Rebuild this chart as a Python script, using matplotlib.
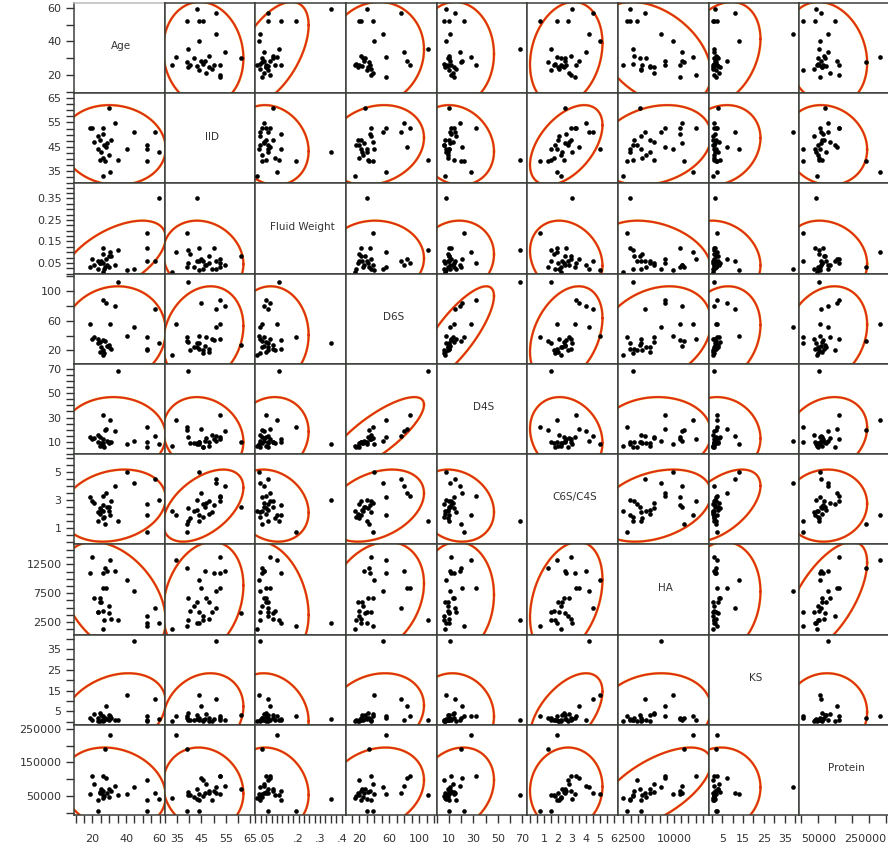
import matplotlib
matplotlib.use('Agg')
import matplotlib.pyplot as plt
import numpy as np
from matplotlib.ticker import MultipleLocator

plt.rcParams['font.family'] = ['DejaVu Sans']

names = ['Age', 'IID', 'Fluid Weight', 'D6S', 'D4S', 'C6S/C4S', 'HA', 'KS', 'Protein']

# one entry per subject
age = [18.8, 19.9, 26, 33.4, 29.8, 44.7, 57.2, 26, 24.6, 21, 26.6, 28, 23, 30, 40.4,
       52.5, 52.5, 59.6, 24.6, 26, 27.6, 35.5, 52.5, 26, 30.5, 28.5, 25, 23.5, 31]
iid = [52.7, 52.7, 52.7, 54.8, 61, 51, 51, 50.3, 48, 46.8, 45.6, 45, 44, 41.8, 44,
       45.6, 44, 43, 39.7, 40.4, 39, 39.7, 39, 33, 34.6, 46.5, 43, 49.5, 48]
fluid = [0.03, 0.07, 0.05, 0.04, 0.08, 0.02, 0.06, 0.12, 0.05, 0.04, 0.02, 0.07, 0.06, 0.03, 0.015,
         0.06, 0.12, 0.35, 0.05, 0.09, 0.03, 0.11, 0.19, 0.01, 0.10, 0.04, 0.06, 0.02, 0.08]
d6s = [56, 36, 88, 79, 28, 52, 76, 34, 18, 38, 16, 83, 30, 25, 40,
       20, 22, 30, 32, 20, 33, 112, 38, 14, 55, 26, 24, 36, 22]
d4s = [14, 12, 32, 19, 10, 11, 15, 12, 7, 13, 6, 21, 10, 9, 8,
       6, 10, 8, 14, 9, 20, 68, 22, 7, 28, 11, 9, 16, 10]
c6s = [3.2, 2.9, 3.3, 4.0, 2.5, 4.2, 4.5, 2.6, 2.0, 2.8, 1.8, 3.5, 1.5, 2.2, 5.0,
       2.7, 1.9, 3.0, 2.4, 1.7, 1.3, 1.5, 0.7, 2.2, 1.9, 2.5, 2.3, 2.1, 2.9]
ha = [11000, 13750, 8400, 11400, 4100, 7800, 5000, 11000, 5900, 6600, 2900, 8400, 4200, 5200, 9800,
      3600, 2300, 2300, 6600, 4400, 11800, 2900, 1800, 1200, 13300, 11400, 5900, 4200, 3000]
ks = [2.0, 1.0, 2.5, 1.0, 3.0, 39, 11, 1.5, 0.5, 3.5, 1.0, 7.5, 2.0, 1.0, 13,
      0.5, 1.0, 1.5, 4.0, 1.0, 2.0, 1.0, 2.5, 0.5, 2.5, 1.5, 3.0, 0.5, 2.0]
protein = [55000, 110000, 110000, 80000, 70000, 78000, 58000, 65000, 60000, 85000, 50000, 105000, 5000, 48000, 55000,
           98000, 40000, 42000, 62000, 52000, 190000, 52000, 5000, 45000, 232000, 58000, 72000, 38000, 66000]

data = [np.array(v, dtype=float) for v in [age, iid, fluid, d6s, d4s, c6s, ha, ks, protein]]

lims = [(9, 63), (30, 67), (0, 0.42), (2, 123), (0, 74), (-0.2, 6.3), (300, 16000), (-1.5, 42), (-6000, 262000)]

yticks = [[20, 40, 60], [35, 45, 55, 65], [0.05, 0.15, 0.25, 0.35], [20, 60, 100], [10, 30, 50, 70],
          [1, 3, 5], [2500, 7500, 12500], [5, 15, 25, 35], [50000, 150000, 250000]]
ylabels = [['20', '40', '60'], ['35', '45', '55', '65'], ['0.05', '0.15', '0.25', '0.35'], ['20', '60', '100'],
           ['10', '30', '50', '70'], ['1', '3', '5'], ['2500', '7500', '12500'], ['5', '15', '25', '35'],
           ['50000', '150000', '250000']]
xticks = [[20, 40, 60], [35, 45, 55, 65], [0.05, 0.2, 0.3, 0.4], [20, 60, 100], [10, 30, 50, 70],
          [1, 2, 3, 4, 5, 6], [2500, 10000], [5, 15, 25, 35], [50000, 250000]]
xlabels = [['20', '40', '60'], ['35', '45', '55', '65'], ['.05', '.2', '.3', '.4'], ['20', '60', '100'],
           ['10', '30', '50', '70'], ['1', '2', '3', '4', '5', '6'], ['2500', '10000'], ['5', '15', '25', '35'],
           ['50000', '250000']]
yminor = [10, 2.5, 0.025, 20, 5, 0.5, 1250, 5, 50000]
xminor = [5, 5, 0.025, 10, 10, 0.5, 1250, 5, 50000]

fig, axes = plt.subplots(9, 9, figsize=(8.88, 8.48), dpi=100)
fig.subplots_adjust(left=74/888, right=890/888, top=1-3/848, bottom=1-815/848, wspace=0, hspace=0)

# 95% density ellipse radius (F based, df1 = 2)
n = len(age)
m = n - 2
fq = m / 2 * (0.05 ** (-2 / m) - 1)
r = np.sqrt(2 * (n - 1) / m * fq)
t = np.linspace(0, 2*np.pi, 200)
circle = np.vstack([np.cos(t), np.sin(t)]) * r

for i in range(9):
    for j in range(9):
        ax = axes[i, j]
        ax.set_xlim(lims[j])
        ax.set_ylim(lims[i])
        for s in ax.spines.values():
            s.set_color('#3a3f3a')
            s.set_linewidth(1.1)
        if i == j:
            ax.text(0.52, 0.52, names[i], transform=ax.transAxes, ha='center', va='center',
                    fontsize=7.5, color='#333333')
        else:
            x = data[j]
            y = data[i]
            cov = np.cov(x, y)
            L = np.linalg.cholesky(cov)
            e = L @ circle
            ax.plot(x.mean() + e[0], y.mean() + e[1], color='#f4c234', lw=1.9)
            ax.plot(x.mean() + e[0], y.mean() + e[1], color='#df2c1a', lw=1.4)
            ax.scatter(x, y, s=11, color='black', zorder=3, linewidths=0)

        ax.set_xticks(xticks[j])
        ax.set_xticklabels(xlabels[j])
        ax.set_yticks(yticks[i])
        ax.set_yticklabels(ylabels[i])
        ax.xaxis.set_minor_locator(MultipleLocator(xminor[j]))
        ax.yaxis.set_minor_locator(MultipleLocator(yminor[i]))
        ax.tick_params(which='both', left=(j == 0), labelleft=(j == 0),
                       bottom=(i == 8), labelbottom=(i == 8), color='#333333', width=1.0, length=6)
        ax.tick_params(axis='y', labelsize=8, labelcolor='#333333', pad=3)
        ax.tick_params(axis='x', labelsize=8, labelcolor='#333333', pad=8)

axes[0, 0].spines['top'].set_color('#bbbbbb')

# last protein label sits right-aligned against the edge
lab = axes[8, 8].get_xticklabels()
lab[-1].set_ha('right')

plt.savefig('out.png', dpi=100)
